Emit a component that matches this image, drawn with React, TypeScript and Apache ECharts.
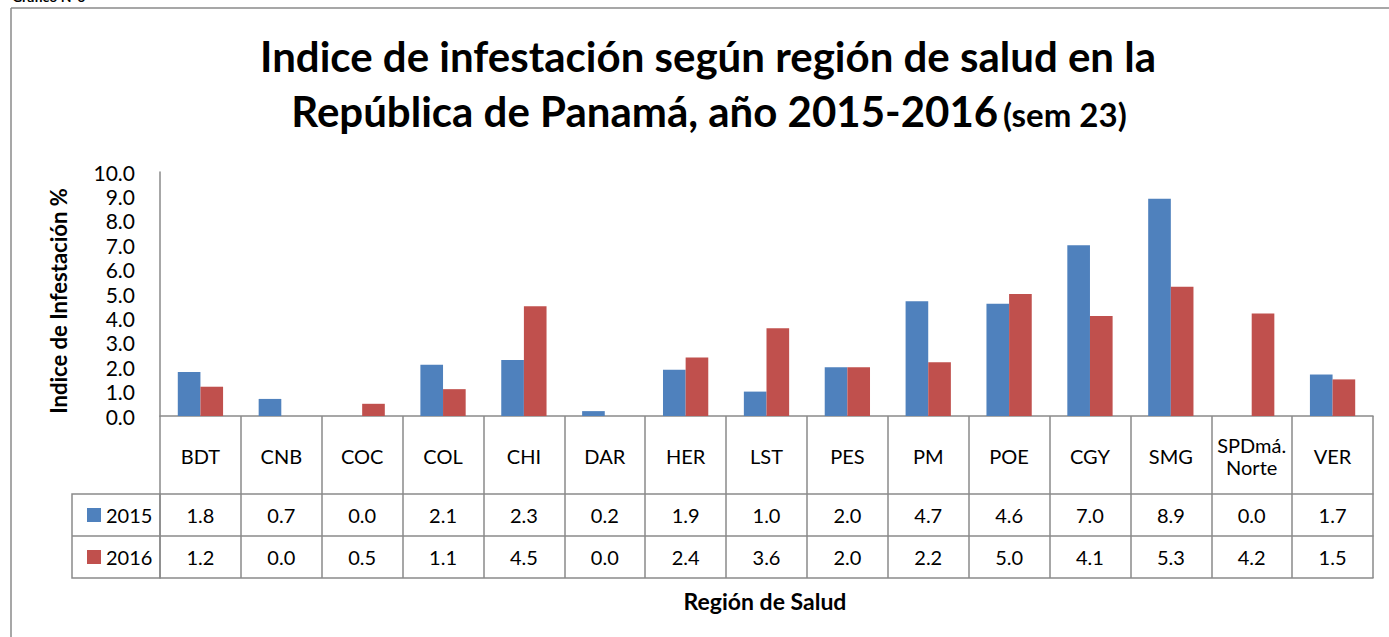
import React, { useEffect, useRef } from "react";
import * as echarts from "echarts";

const categories = ["BDT", "CNB", "COC", "COL", "CHI", "DAR", "HER", "LST", "PES", "PM", "POE", "CGY", "SMG", "SPDmá.\nNorte", "VER"];
const values2015 = [1.8, 0.7, 0.0, 2.1, 2.3, 0.2, 1.9, 1.0, 2.0, 4.7, 4.6, 7.0, 8.9, 0.0, 1.7];
const values2016 = [1.2, 0.0, 0.5, 1.1, 4.5, 0.0, 2.4, 3.6, 2.0, 2.2, 5.0, 4.1, 5.3, 4.2, 1.5];
const seriesNames = ["2015", "2016"];
const yTicks = { min: 0, max: 10, interval: 1 };

const FONT = "Lato, 'Noto Sans', sans-serif";
const GRAY = "#8a8a8a";

export default function App() {
  const ref = useRef<HTMLDivElement>(null);
  useEffect(() => {
    if (!ref.current) return;
    const chart = echarts.init(ref.current, null, { renderer: "svg" });
    const gridLeft = 160, gridRight = 16, gridTop = 172, axisY = 416;
    const rowH = 42, headH = 78;
    const valueAxis = (offset: number, vals: number[] | null, margin: number) => ({
      type: "category",
      data: categories,
      position: "bottom",
      offset,
      axisLine: { show: true, lineStyle: { color: GRAY, width: 1.5 } },
      axisTick: { show: false },
      splitLine: { show: false },
      axisLabel: {
        show: vals !== null,
        interval: 0,
        margin,
        verticalAlign: "middle",
        fontFamily: FONT,
        fontSize: 20,
        color: "#000",
        formatter: (_v: string, i: number) => (vals ? vals[i].toFixed(1) : ""),
      },
    });
    chart.setOption({
      animation: false,
      backgroundColor: "#fff",
      title: [
        {
          text: "Indice de infestación según región de salud en la",
          left: 703,
          top: 30,
          textAlign: "center",
          textStyle: { fontFamily: FONT, fontSize: 42, fontWeight: "bold", color: "#000" },
        },
        {
          text: "{a|República de Panamá, año 2015-2016} {b|(sem 23)}",
          left: 704,
          top: 85,
          textAlign: "center",
          textStyle: {
            rich: {
              a: { fontFamily: FONT, fontSize: 42, fontWeight: "bold", color: "#000" },
              b: { fontFamily: FONT, fontSize: 33, fontWeight: "bold", color: "#000", padding: [6, 0, 0, 0] },
            },
          },
        },
      ],
      legend: {
        data: seriesNames,
        orient: "vertical",
        left: 82,
        top: 500,
        icon: "rect",
        itemWidth: 14,
        itemHeight: 14,
        itemGap: 22,
        textStyle: { fontFamily: FONT, fontSize: 20, lineHeight: 20, color: "#000" },
      },
      grid: { left: gridLeft, right: gridRight, top: gridTop, bottom: 637 - axisY, containLabel: false },
      xAxis: [
        {
          type: "category",
          data: categories,
          position: "bottom",
          axisLine: { show: true, lineStyle: { color: GRAY, width: 1.5 } },
          axisTick: { show: true, interval: 0, length: headH + 2 * rowH, lineStyle: { color: GRAY, width: 1.5 } },
          splitLine: { show: false },
          axisLabel: {
            interval: 0,
            margin: 40,
            verticalAlign: "middle",
            fontFamily: FONT,
            fontSize: 20,
            lineHeight: 22,
            color: "#000",
          },
        },
        valueAxis(headH, values2015, 21),
        valueAxis(headH + rowH, values2016, 21),
        valueAxis(headH + 2 * rowH, null, 10),
      ],
      yAxis: {
        type: "value",
        min: yTicks.min,
        max: yTicks.max,
        interval: yTicks.interval,
        axisLine: { show: true, lineStyle: { color: GRAY, width: 1.5 } },
        axisTick: { show: false },
        splitLine: { show: false },
        axisLabel: {
          margin: 25,
          fontFamily: FONT,
          fontSize: 21,
          color: "#000",
          formatter: (v: number) => v.toFixed(1),
        },
      },
      series: [
        {
          name: seriesNames[0],
          type: "bar",
          data: values2015,
          itemStyle: { color: "#4F81BD" },
          barGap: "0%",
          barCategoryGap: "44%",
        },
        {
          name: seriesNames[1],
          type: "bar",
          data: values2016,
          itemStyle: { color: "#C0504D" },
          barGap: "0%",
          barCategoryGap: "44%",
        },
      ],
      graphic: [
        { type: "line", shape: { x1: 11, y1: 8, x2: 1389, y2: 8 }, style: { stroke: GRAY, lineWidth: 1.5 } },
        { type: "line", shape: { x1: 11, y1: 8, x2: 11, y2: 637 }, style: { stroke: GRAY, lineWidth: 1.5 } },
        {
          type: "text",
          x: 12,
          y: -11,
          style: { text: "Gráfico N°6", fontFamily: FONT, fontSize: 14, fontWeight: "bold", fill: "#000" },
        },
        {
          type: "rect",
          shape: { x: 72, y: axisY + headH, width: gridLeft - 72, height: 2 * rowH },
          style: { fill: "none", stroke: GRAY, lineWidth: 1.5 },
        },
        {
          type: "line",
          shape: { x1: 72, y1: axisY + headH + rowH, x2: gridLeft, y2: axisY + headH + rowH },
          style: { stroke: GRAY, lineWidth: 1.5 },
        },
        {
          type: "text",
          x: 58,
          y: 301,
          rotation: Math.PI / 2,
          style: {
            text: "Indice de Infestación %",
            fontFamily: FONT,
            fontSize: 22,
            fontWeight: "bold",
            fill: "#000",
            align: "center",
            verticalAlign: "middle",
          },
        },
        {
          type: "text",
          x: 765,
          y: 601,
          style: {
            text: "Región de Salud",
            fontFamily: FONT,
            fontSize: 23,
            fontWeight: "bold",
            fill: "#000",
            align: "center",
            verticalAlign: "middle",
          },
        },
      ],
    });
    return () => chart.dispose();
  }, []);
  return <div ref={ref} style={{ position: "fixed", left: 0, top: 0, width: 1389, height: 637 }} />;
}
